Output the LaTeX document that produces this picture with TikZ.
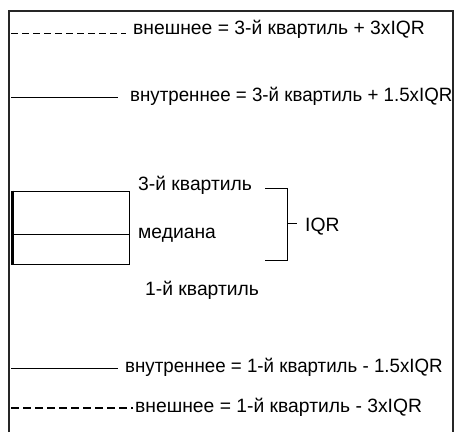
\documentclass[tikz,border=0pt]{standalone}
\usepackage{fontspec}
\setmainfont{Liberation Sans}
\begin{document}
\begin{tikzpicture}[x=1pt,y=-1pt,
  lbl/.style={inner sep=0pt,anchor=base west,font=\fontsize{19.3}{21}\selectfont},
  tight/.style={xscale=0.97},
  thin line/.style={line width=1pt,black},
  dash top/.style={line width=1pt,dash pattern=on 7pt off 4pt},
  dash bottom/.style={line width=2pt,dash pattern=on 8pt off 4pt},
  frameline/.style={line width=1.2pt,black!85}]
\useasboundingbox[fill=white] (0,0) rectangle (455,432);
% fence labels
\node[lbl] (uo) at (133,34) {внешнее = 3-й квартиль + 3xIQR};
\node[lbl,tight] (ui) at (130,101) {внутреннее = 3-й квартиль + 1.5xIQR};
\node[lbl,tight] (li) at (125,372) {внутреннее = 1-й квартиль - 1.5xIQR};
\node[lbl] (lo) at (135,412) {внешнее = 1-й квартиль - 3xIQR};
% frame
\draw[frameline] (9,432) -- (9,11) -- (453,11) -- (453,432);
\coordinate (uo0) at (11,33); \coordinate (uo1) at (126,33);
\coordinate (ui0) at (11,97); \coordinate (ui1) at (118,97);
\coordinate (li0) at (11,368); \coordinate (li1) at (118,368);
\coordinate (lo0) at (11,408); \coordinate (lo1) at (133,408);
\draw[dash top] (uo0) -- (uo1);
\draw[thin line] (ui0) -- (ui1);
\draw[thin line] (li0) -- (li1);
\draw[dash bottom] (lo0) -- (lo1);
% box
\node[draw,line width=1pt,minimum width=117pt,minimum height=73pt,anchor=north west,inner sep=0pt] (box) at (12,190.5) {};
\draw[thin line] (box.west |- 0,234) coordinate (m0) -- (box.east |- 0,234) coordinate (m1);
\draw[line width=3pt] (box.north west) -- (box.south west);
% box labels
\node[lbl] (q3) at (138,190) {3-й квартиль};
\node[lbl] (med) at (138,238) {медиана};
\node[lbl] (q1) at (145,295) {1-й квартиль};
\node[lbl] (iqr) at (305,231) {IQR};
% bracket
\coordinate (b1) at (265,188); \coordinate (b2) at (287,188);
\coordinate (b3) at (287,260); \coordinate (b4) at (265,260);
\coordinate (bm) at (287,223); \coordinate (bt) at (297,223);
\draw[thin line] (b1) -- (b2) -- (b3) -- (b4);
\draw[thin line] (bm) -- (bt);
\end{tikzpicture}
\end{document}
